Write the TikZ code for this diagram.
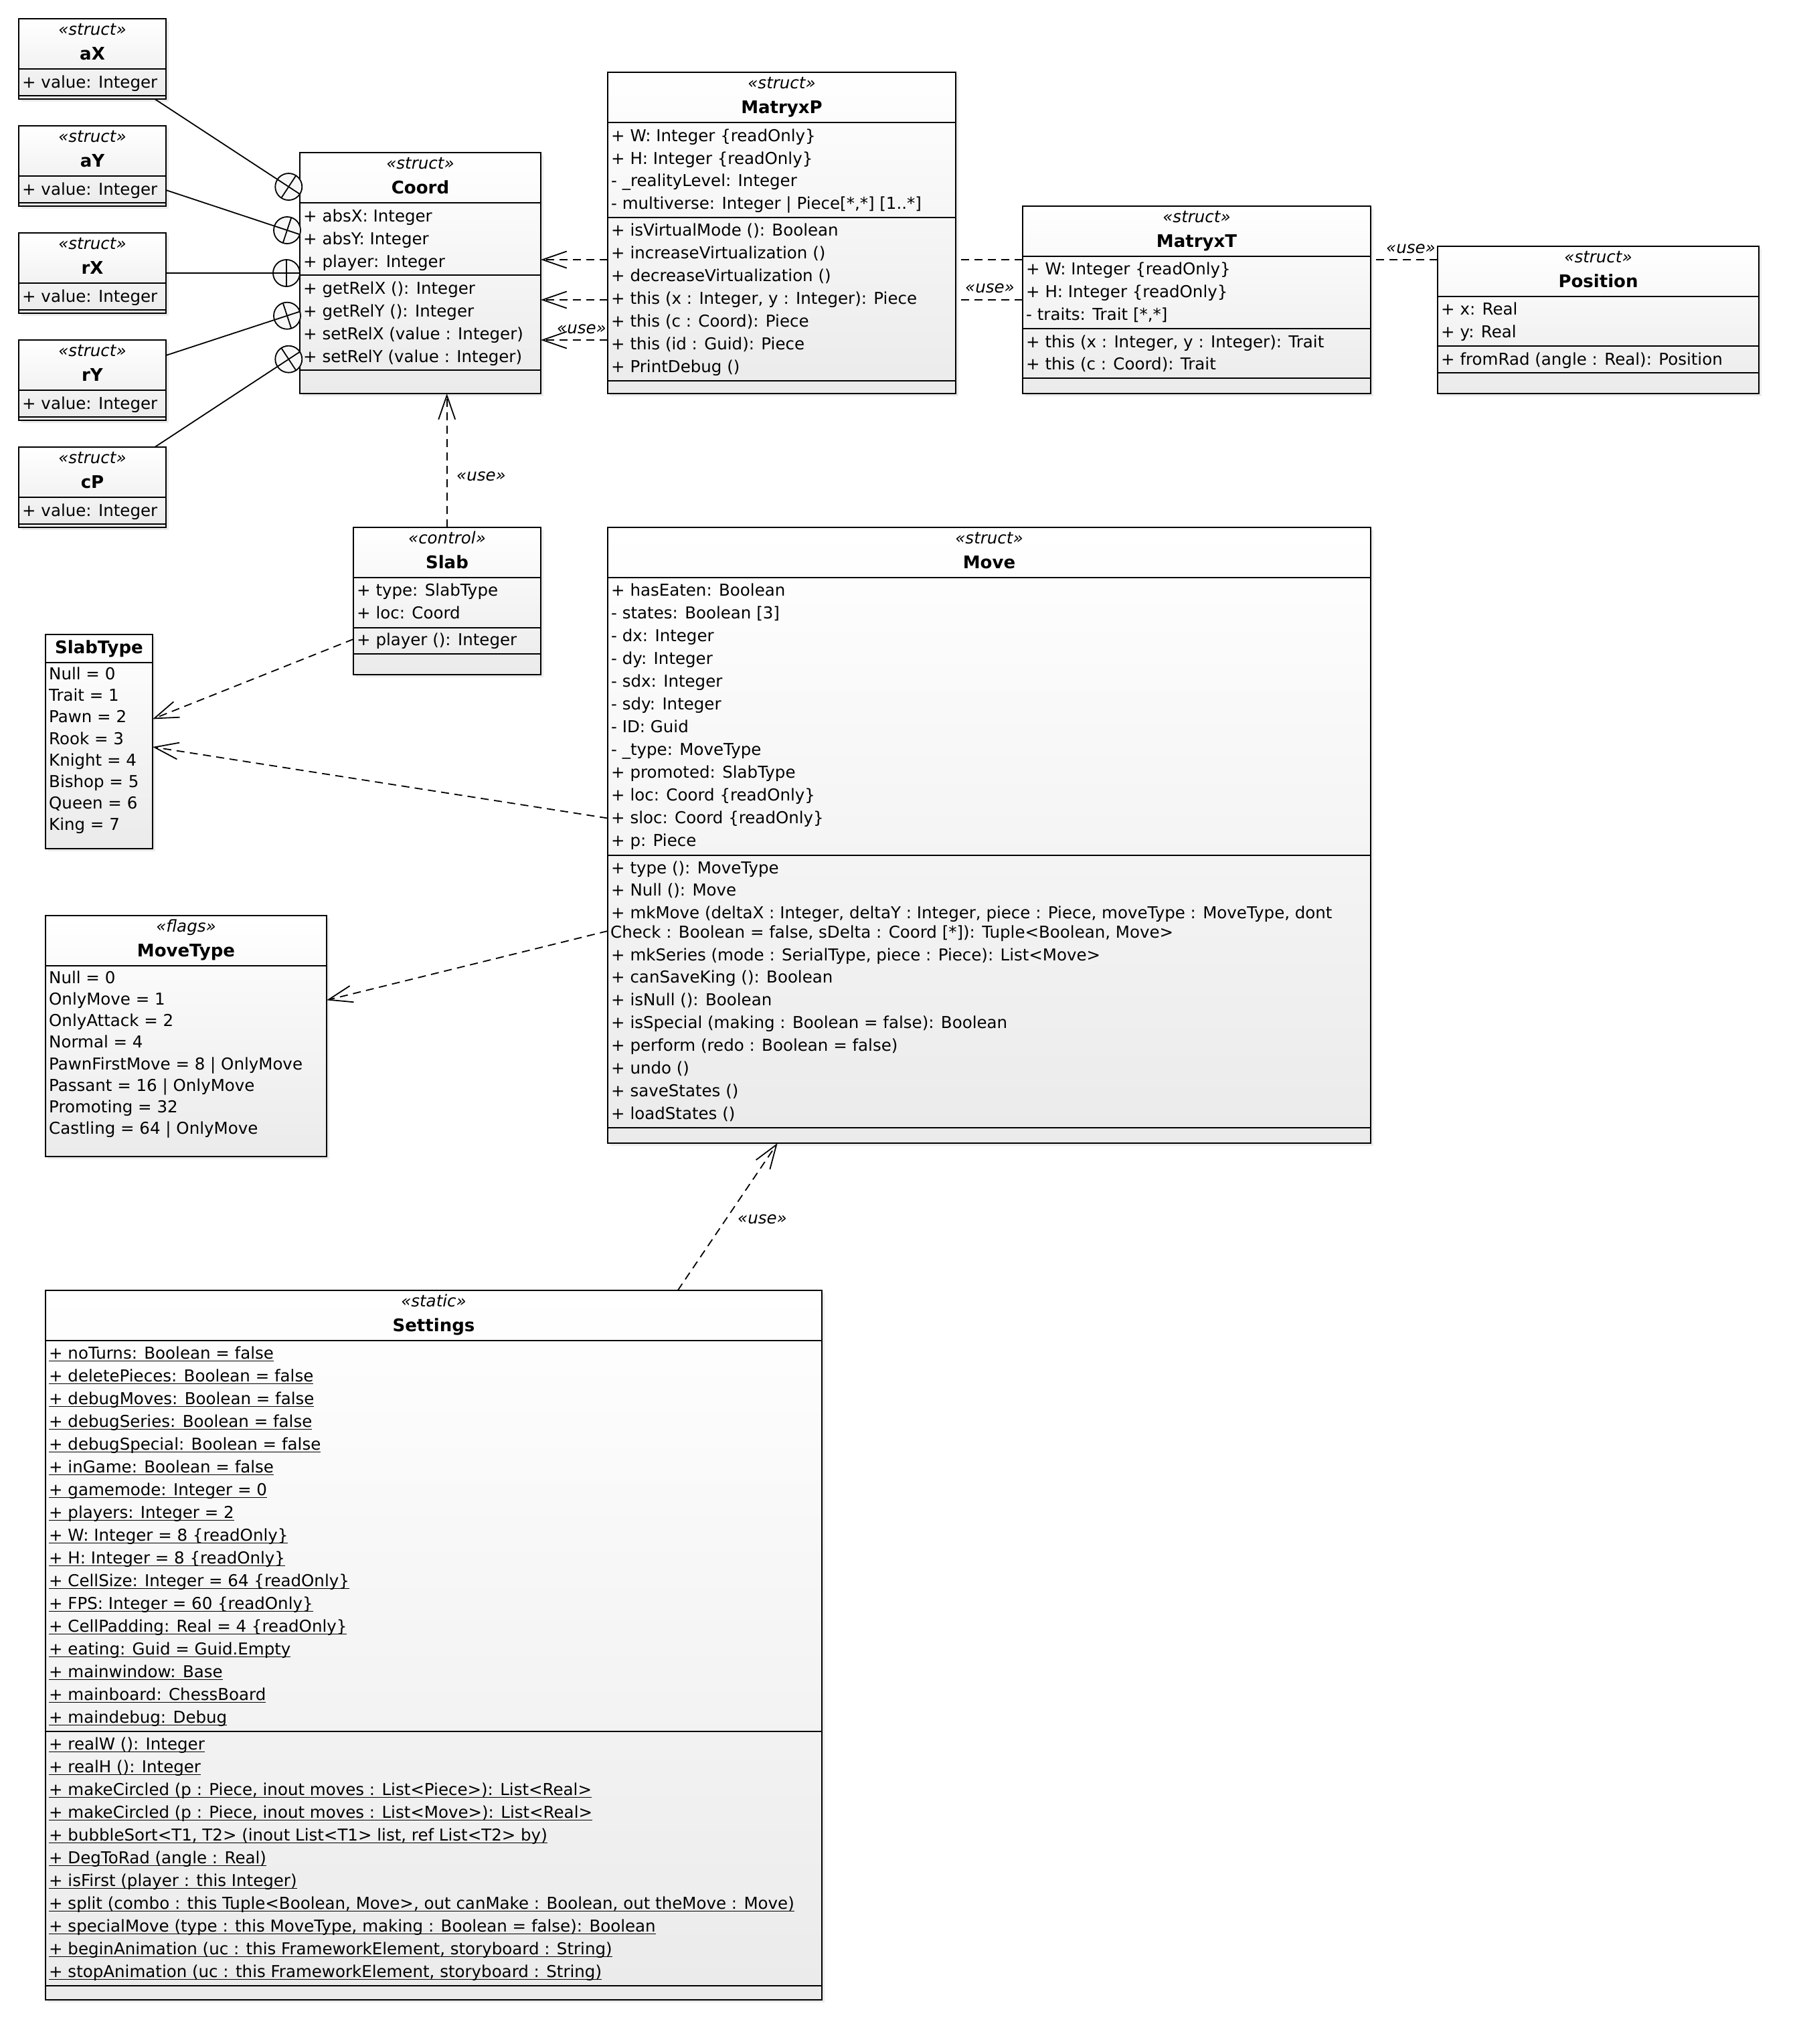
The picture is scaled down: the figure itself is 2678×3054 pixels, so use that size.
\documentclass[tikz,border=0pt]{standalone}
\usepackage{fontspec}
\setmainfont{DejaVu Sans}
\usetikzlibrary{arrows.meta,calc,shadows}
\pgfdeclarelayer{back}
\pgfdeclarelayer{lines}
\pgfsetlayers{back,lines,main}
\newcommand\rowfont{\fontsize{24.5pt}{30pt}\selectfont}
\newcommand\namefont{\fontsize{26pt}{30pt}\selectfont}
\newcommand\stul[1]{\setbox0=\hbox{#1}\rlap{\rule[-3.6pt]{\wd0}{1.3pt}}\box0}
\newcommand\rowlist[6][]{\foreach \rowtxt [count=\i] in {#6}{\node[rowtext] (#2-\i) at ({#3},{#4+(\i-1)*#5}) {#1{\rowtxt}};}}
\newcommand\csep[2]{\draw[seprule] (#1.west |- 0,#2) -- (#1.east |- 0,#2);}
\newcommand\nestlink[3]{%
  \coordinate (#1-c) at ($(#3)!20pt!(#2)$);
  \draw[conn] (#2) -- (#3);
  \draw[conn, fill=black!3] (#1-c) circle[radius=20pt];
  \draw[conn] ($(#1-c)!20pt!(#2)$) -- (#3);
  \draw[conn] ($(#1-c)!20pt!90:(#2)$) -- ($(#1-c)!20pt!-90:(#2)$);
}
\begin{document}
\begin{tikzpicture}[x=1pt,y=-1pt,
  box/.style={draw=black, line width=2.2pt, top color=white, bottom color=black!8,
    drop shadow={opacity=0.15, shadow xshift=4pt, shadow yshift=-4pt},
    anchor=north west, inner sep=0pt, outer sep=0pt},
  seprule/.style={line width=2pt},
  rowtext/.style={anchor=base west, inner sep=0pt, font=\rowfont},
  stereo/.style={anchor=base, inner sep=0pt, font=\rowfont\itshape},
  cname/.style={anchor=base, inner sep=0pt, font=\namefont\bfseries},
  conn/.style={line width=1.8pt},
  dep/.style={line width=1.8pt, dash pattern=on 12pt off 8pt,
    -{Straight Barb[length=36pt,width=25pt]}},
  uselabel/.style={anchor=base west, inner sep=0pt, font=\rowfont\itshape}
]
\begin{pgfonlayer}{back}
\fill[white] (0,0) rectangle (2678,3054);
\end{pgfonlayer}
\useasboundingbox (0,0) rectangle (2678,3054);

% ---------- class boxes ----------
\node[box, minimum width=220pt, minimum height=120pt] (ax) at (28,28) {};
\node[box, minimum width=220pt, minimum height=120pt] (ay) at (28,188) {};
\node[box, minimum width=220pt, minimum height=120pt] (rx) at (28,348) {};
\node[box, minimum width=220pt, minimum height=120pt] (ry) at (28,508) {};
\node[box, minimum width=220pt, minimum height=120pt] (cp) at (28,668) {};
\node[box, minimum width=360pt, minimum height=360pt] (coord) at (448,228) {};
\node[box, minimum width=520pt, minimum height=480pt] (matryxp) at (908,108) {};
\node[box, minimum width=520pt, minimum height=280pt] (matryxt) at (1528,308) {};
\node[box, minimum width=480pt, minimum height=220pt] (position) at (2148,368) {};
\node[box, minimum width=280pt, minimum height=220pt] (slab) at (528,788) {};
\node[box, minimum width=160pt, minimum height=320pt] (slabtype) at (68,948) {};
\node[box, minimum width=420pt, minimum height=360pt] (movetype) at (68,1368) {};
\node[box, minimum width=1140pt, minimum height=920pt] (move) at (908,788) {};
\node[box, minimum width=1160pt, minimum height=1060pt] (settings) at (68,1928) {};

% ---------- compartments ----------
\foreach \b/\t in {ax/28, ay/188, rx/348, ry/508, cp/668} {
  \csep{\b}{\t+75}
  \csep{\b}{\t+114.5}
}
\csep{coord}{303}\csep{coord}{411}\csep{coord}{553}
\csep{matryxp}{183}\csep{matryxp}{325}\csep{matryxp}{569}
\csep{matryxt}{383}\csep{matryxt}{491}\csep{matryxt}{565}
\csep{position}{443}\csep{position}{517}\csep{position}{557}
\csep{slab}{862.5}\csep{slab}{937.5}\csep{slab}{977}
\csep{slabtype}{989.5}
\csep{movetype}{1442.5}
\csep{move}{862.5}\csep{move}{1277.5}\csep{move}{1685}
\csep{settings}{2003}\csep{settings}{2586.5}\csep{settings}{2966.5}

% ---------- small structs ----------
\foreach \b/\nm/\t in {ax/aX/28, ay/aY/188, rx/rX/348, ry/rY/508, cp/cP/668} {
  \node[stereo] (\b-st) at (\b.north |- 0,\t+24.5) {«struct»};
  \node[cname] (\b-nm) at (\b.north |- 0,\t+61.5) {\nm};
  \node[rowtext] (\b-1) at (33,\t+103.5) {+ value: Integer};
}

% ---------- Coord ----------
\node[stereo] (coord-st) at (coord.north |- 0,252.5) {«struct»};
\node[cname] (coord-nm) at (coord.north |- 0,289.5) {Coord};
\rowlist{coord-a}{453}{331}{34}{{+ absX: Integer},{+ absY: Integer},{+ player: Integer}}
\rowlist{coord-o}{453}{439}{34}{{+ getRelX (): Integer},{+ getRelY (): Integer},{+ setRelX (value : Integer)},{+ setRelY (value : Integer)}}

% ---------- MatryxP ----------
\node[stereo] (matryxp-st) at (matryxp.north |- 0,132.5) {«struct»};
\node[cname] (matryxp-nm) at (matryxp.north |- 0,169.5) {MatryxP};
\rowlist{matryxp-a}{913}{211.2}{33.8}{{+ W: Integer \{readOnly\}},{+ H: Integer \{readOnly\}},{- \_realityLevel: Integer},{- multiverse: Integer | Piece[*,*] [1..*]}}
\rowlist{matryxp-o}{913}{352.7}{33.9}{{+ isVirtualMode (): Boolean},{+ increaseVirtualization ()},{+ decreaseVirtualization ()},{+ this (x : Integer, y : Integer): Piece},{+ this (c : Coord): Piece},{+ this (id : Guid): Piece},{+ PrintDebug ()}}

% ---------- MatryxT ----------
\node[stereo] (matryxt-st) at (matryxt.north |- 0,332.5) {«struct»};
\node[cname] (matryxt-nm) at (matryxt.north |- 0,369.5) {MatryxT};
\rowlist{matryxt-a}{1533}{410.9}{33.7}{{+ W: Integer \{readOnly\}},{+ H: Integer \{readOnly\}},{- traits: Trait [*,*]}}
\rowlist{matryxt-o}{1533}{519.1}{33.6}{{+ this (x : Integer, y : Integer): Trait},{+ this (c : Coord): Trait}}

% ---------- Position ----------
\node[stereo] (position-st) at (position.north |- 0,392.5) {«struct»};
\node[cname] (position-nm) at (position.north |- 0,429.5) {Position};
\rowlist{position-a}{2153}{470.7}{34}{{+ x: Real},{+ y: Real}}
\rowlist{position-o}{2153}{545.4}{34}{{+ fromRad (angle : Real): Position}}

% ---------- Slab ----------
\node[stereo] (slab-st) at (slab.north |- 0,812.5) {«control»};
\node[cname] (slab-nm) at (slab.north |- 0,849.5) {Slab};
\rowlist{slab-a}{533}{890.6}{33.7}{{+ type: SlabType},{+ loc: Coord}}
\rowlist{slab-o}{533}{964.7}{34}{{+ player (): Integer}}

% ---------- SlabType ----------
\node[cname] (slabtype-nm) at (slabtype.north |- 0,976) {SlabType};
\rowlist{slabtype-l}{73}{1015.6}{32.15}{{Null = 0},{Trait = 1},{Pawn = 2},{Rook = 3},{Knight = 4},{Bishop = 5},{Queen = 6},{King = 7}}

% ---------- MoveType ----------
\node[stereo] (movetype-st) at (movetype.north |- 0,1392.5) {«flags»};
\node[cname] (movetype-nm) at (movetype.north |- 0,1429.5) {MoveType};
\rowlist{movetype-l}{73}{1469.3}{32.2}{{Null = 0},{OnlyMove = 1},{OnlyAttack = 2},{Normal = 4},{PawnFirstMove = 8 | OnlyMove},{Passant = 16 | OnlyMove},{Promoting = 32},{Castling = 64 | OnlyMove}}

% ---------- Move ----------
\node[stereo] (move-st) at (move.north |- 0,812.5) {«struct»};
\node[cname] (move-nm) at (move.north |- 0,849.5) {Move};
\rowlist{move-a}{913}{890.6}{34.03}{{+ hasEaten: Boolean},{- states: Boolean [3]},{- dx: Integer},{- dy: Integer},{- sdx: Integer},{- sdy: Integer},{- ID: Guid},{- \_type: MoveType},{+ promoted: SlabType},{+ loc: Coord \{readOnly\}},{+ sloc: Coord \{readOnly\}},{+ p: Piece}}
\rowlist{move-o}{913}{1305}{33.75}{{+ type (): MoveType},{+ Null (): Move},{+ mkMove (deltaX : Integer, deltaY : Integer, piece : Piece, moveType : MoveType, dont}}
\node[rowtext] (move-wrap) at (912,1401.2) {Check : Boolean = false, sDelta : Coord [*]): Tuple<Boolean, Move>};
\rowlist{move-p}{913}{1435}{33.93}{{+ mkSeries (mode : SerialType, piece : Piece): List<Move>},{+ canSaveKing (): Boolean},{+ isNull (): Boolean},{+ isSpecial (making : Boolean = false): Boolean},{+ perform (redo : Boolean = false)},{+ undo ()},{+ saveStates ()},{+ loadStates ()}}

% ---------- Settings ----------
\node[stereo] (settings-st) at (settings.north |- 0,1952.5) {«static»};
\node[cname] (settings-nm) at (settings.north |- 0,1989.5) {Settings};
\rowlist[\stul]{settings-a}{73}{2030.2}{34}{{+ noTurns: Boolean = false},{+ deletePieces: Boolean = false},{+ debugMoves: Boolean = false},{+ debugSeries: Boolean = false},{+ debugSpecial: Boolean = false},{+ inGame: Boolean = false},{+ gamemode: Integer = 0},{+ players: Integer = 2},{+ W: Integer = 8 \{readOnly\}},{+ H: Integer = 8 \{readOnly\}},{+ CellSize: Integer = 64 \{readOnly\}},{+ FPS: Integer = 60 \{readOnly\}},{+ CellPadding: Real = 4 \{readOnly\}},{+ eating: Guid = Guid.Empty},{+ mainwindow: Base},{+ mainboard: ChessBoard},{+ maindebug: Debug}}
\rowlist[\stul]{settings-o}{73}{2614.2}{34}{{+ realW (): Integer},{+ realH (): Integer},{+ makeCircled (p : Piece, inout moves : List<Piece>): List<Real>},{+ makeCircled (p : Piece, inout moves : List<Move>): List<Real>},{+ bubbleSort<T1, T2> (inout List<T1> list, ref List<T2> by)},{+ DegToRad (angle : Real)},{+ isFirst (player : this Integer)},{+ split (combo : this Tuple<Boolean, Move>, out canMake : Boolean, out theMove : Move)},{+ specialMove (type : this MoveType, making : Boolean = false): Boolean},{+ beginAnimation (uc : this FrameworkElement, storyboard : String)},{+ stopAnimation (uc : this FrameworkElement, storyboard : String)}}

% ---------- dependencies (behind boxes) ----------
\begin{pgfonlayer}{lines}
\draw[dep] (position.west |- 0,388) -- (coord.east |- 0,388);
\draw[dep] (matryxt.west |- 0,448) -- (coord.east |- 0,448);
\draw[dep] (matryxp.west |- 0,508) -- (coord.east |- 0,508);
\draw[dep] (slab.north -| 667.7,0) -- (coord.south -| 667.7,0);
\draw[dep] (slab.west |- 0,955) -- (slabtype.east |- 0,1074.4);
\draw[dep] (move.west |- 0,1222.5) -- (slabtype.east |- 0,1116);
\draw[dep] (move.west |- 0,1391) -- (movetype.east |- 0,1494.4);
\draw[dep] (settings.north -| 1012.7,0) -- (move.south -| 1161.7,0);
\end{pgfonlayer}
\node[uselabel] (use-pos) at (2071,378) {«use»};
\node[uselabel] (use-mt) at (1442,437.4) {«use»};
\node[uselabel] (use-mp) at (832,498) {«use»};
\node[uselabel] (use-slab) at (682,718.5) {«use»};
\node[uselabel] (use-set) at (1102,1828) {«use»};

% ---------- nesting connectors ----------
\coordinate (ax-o) at (ax.south -| 231.3,0);
\coordinate (ax-i) at (coord.west |- 0,290);
\coordinate (ay-o) at (ay.east |- 0,284);
\coordinate (ay-i) at (coord.west |- 0,350.3);
\coordinate (rx-o) at (rx.east |- 0,408);
\coordinate (rx-i) at (coord.west |- 0,408);
\coordinate (ry-o) at (ry.east |- 0,531);
\coordinate (ry-i) at (coord.west |- 0,465.5);
\coordinate (cp-o) at (cp.north -| 231.3,0);
\coordinate (cp-i) at (coord.west |- 0,525.7);
\nestlink{nax}{ax-o}{ax-i}
\nestlink{nay}{ay-o}{ay-i}
\nestlink{nrx}{rx-o}{rx-i}
\nestlink{nry}{ry-o}{ry-i}
\nestlink{ncp}{cp-o}{cp-i}
\end{tikzpicture}
\end{document}
